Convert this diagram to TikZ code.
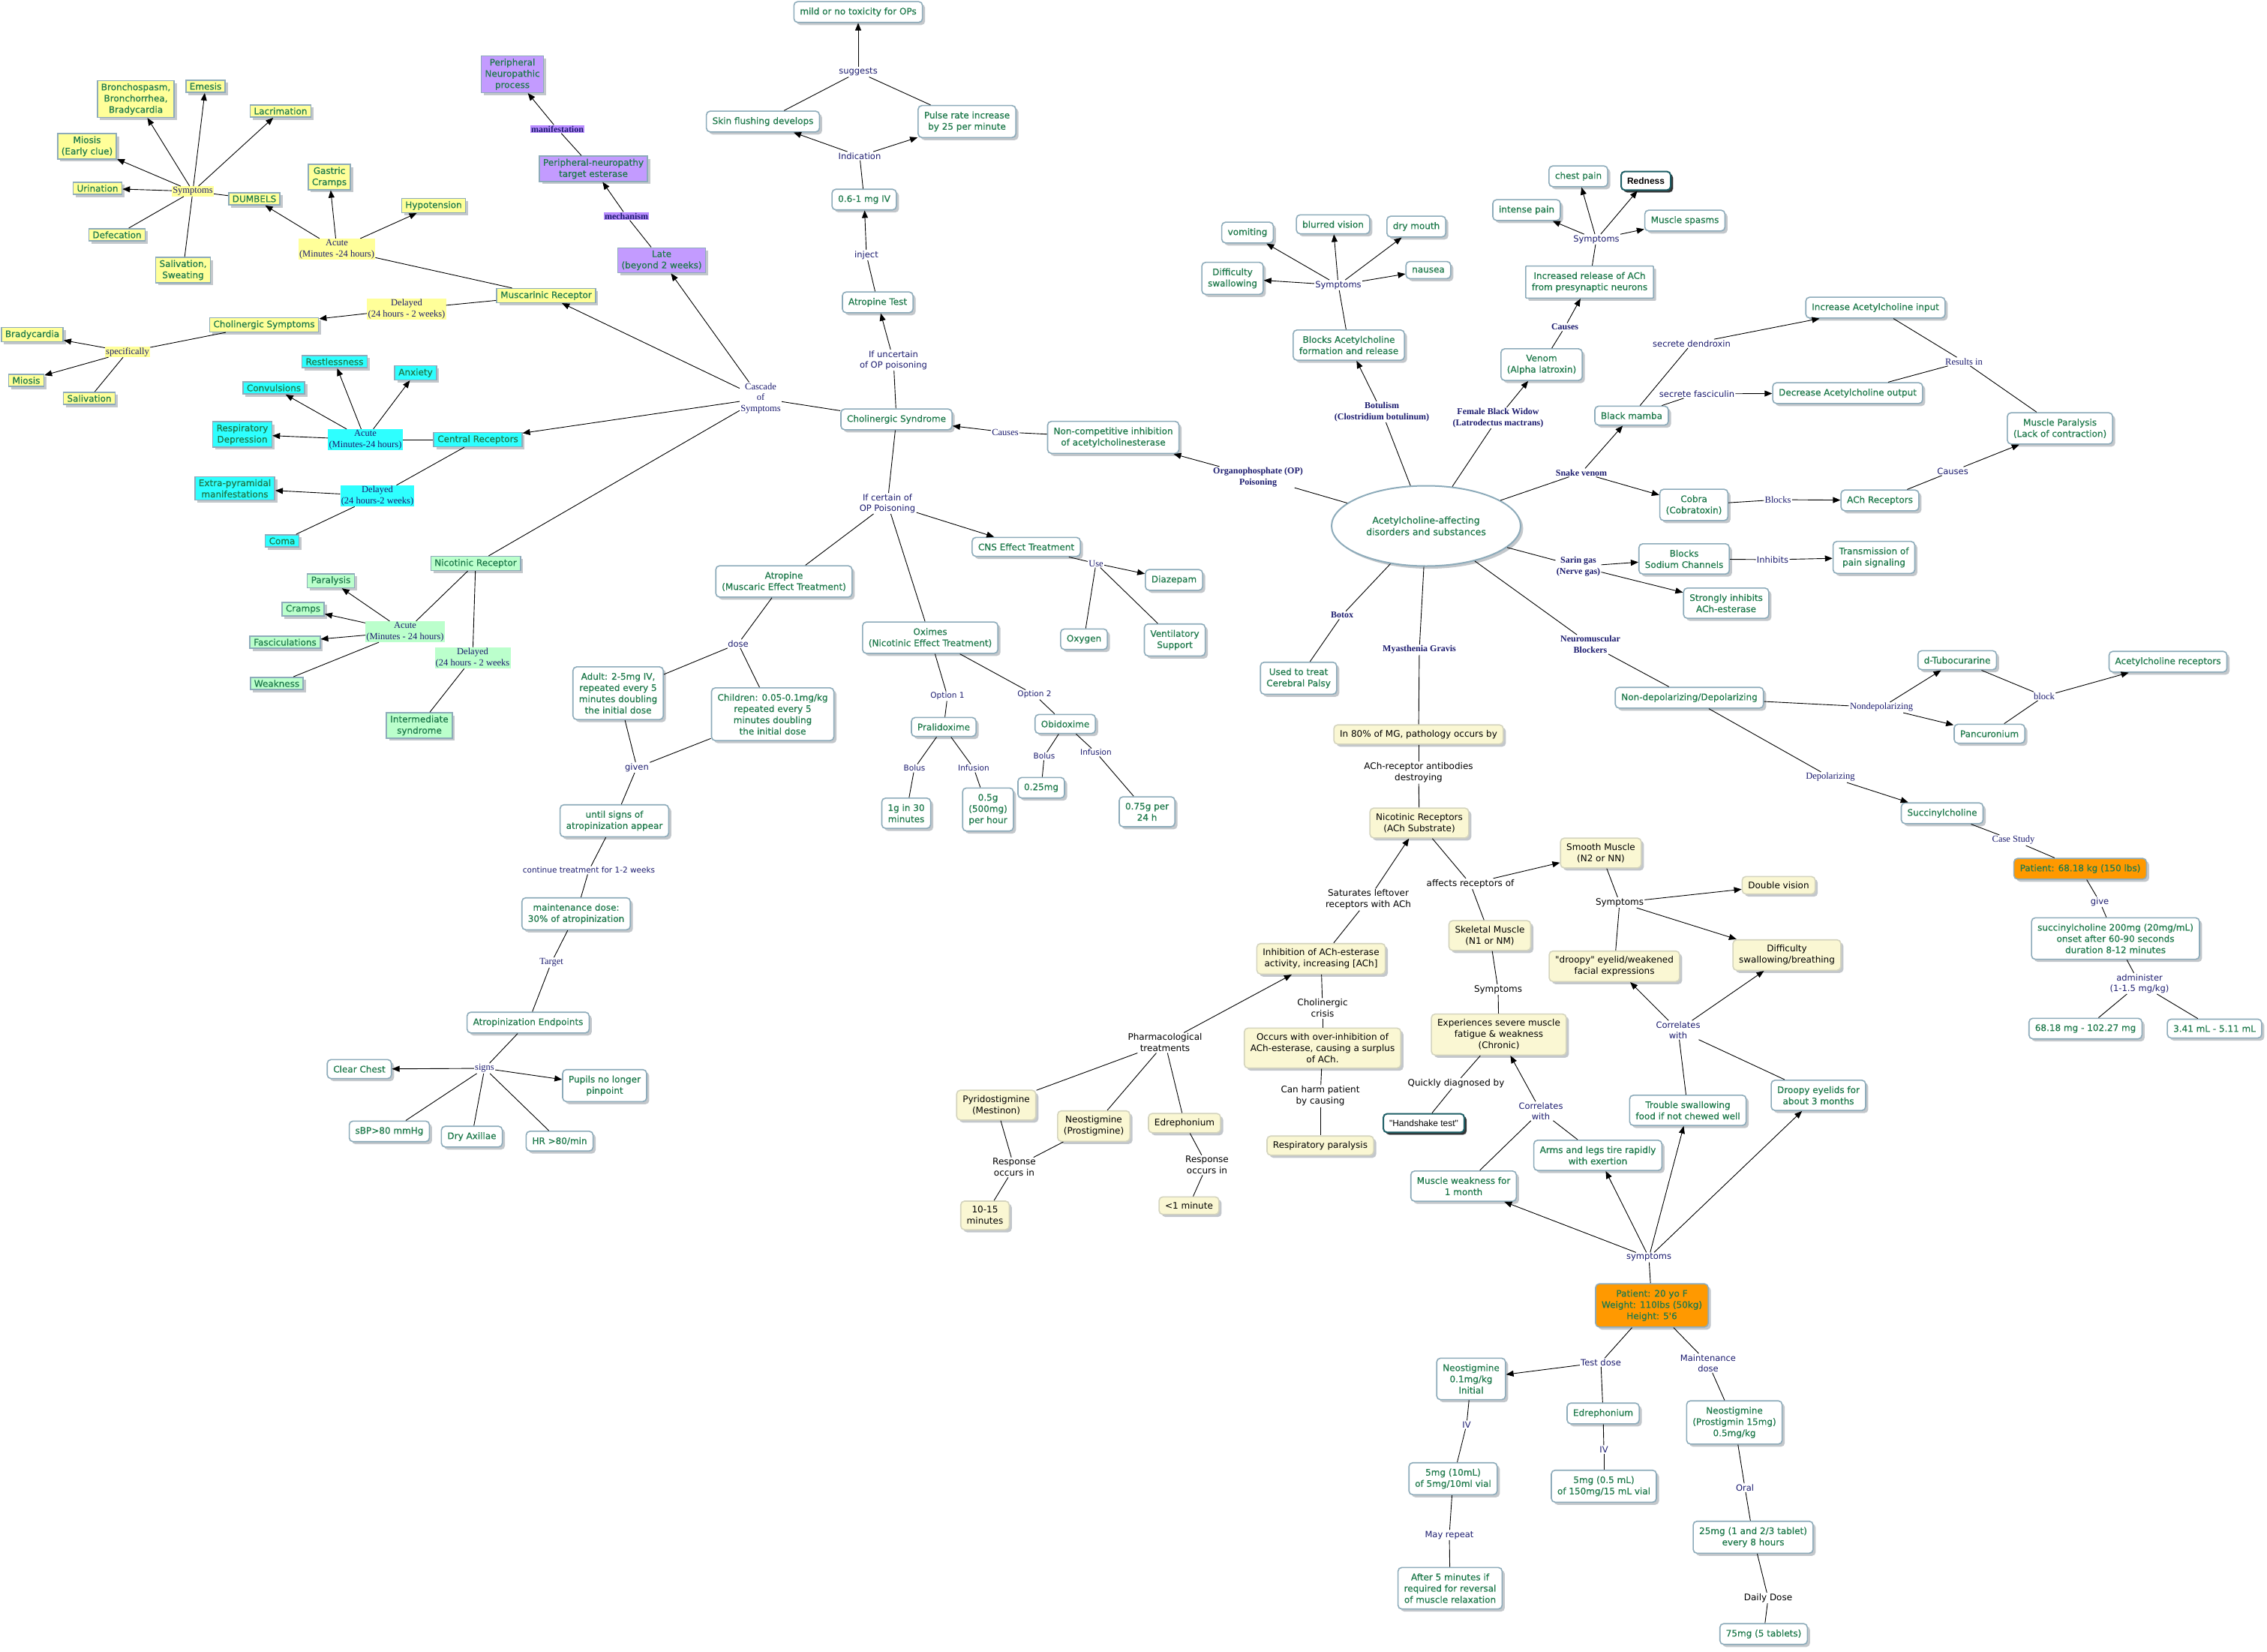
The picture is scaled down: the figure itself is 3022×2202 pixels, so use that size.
\documentclass[tikz,border=0pt]{standalone}
\usepackage{fontspec}
\usepackage{tikz}
\usetikzlibrary{arrows.meta,shapes.geometric,shadows}
\newfontfamily\verd{DejaVu Sans}
\newfontfamily\verdh[FakeBold=0.6]{DejaVu Sans}
\newfontfamily\tms{Liberation Serif}
\newfontfamily\arl{Liberation Sans}
\definecolor{leaf}{HTML}{1F7A4C}
\definecolor{rim}{HTML}{8DABBA}
\definecolor{shadowgrey}{HTML}{C3C7CB}
\definecolor{navy}{HTML}{1D1D70}
\definecolor{lemon}{HTML}{FFFF99}
\definecolor{aqua}{HTML}{2EFFFF}
\definecolor{mint}{HTML}{BBFFCC}
\definecolor{lilac}{HTML}{C39BFF}
\definecolor{lilacdk}{HTML}{B98CFF}
\definecolor{cream}{HTML}{FAF7D3}
\definecolor{creamrim}{HTML}{D4D4BE}
\definecolor{amber}{HTML}{FF9900}
\definecolor{tealrim}{HTML}{1E5F66}
\tikzset{
  cbox/.style={rectangle, rounded corners=5pt, draw=rim, fill=white, line width=1.6pt, align=center,
               text=leaf, font=\verdh\fontsize{12}{15}\selectfont, inner xsep=8pt, inner ysep=8pt,
               drop shadow={shadow xshift=3.5pt, shadow yshift=-3.5pt, fill=shadowgrey, opacity=1}},
  ybox/.style={cbox, rounded corners=0pt, fill=lemon, inner xsep=5pt, inner ysep=3.5pt},
  cybox/.style={ybox, fill=aqua},
  gbox/.style={ybox, fill=mint},
  pbox/.style={ybox, fill=lilac},
  mgbox/.style={cbox, draw=creamrim, fill=cream, text=black, font=\verd\fontsize{12}{15}\selectfont, inner ysep=7pt},
  obox/.style={cbox, fill=amber},
  hub/.style={ellipse, draw=rim, fill=white, line width=2pt, align=center, text=leaf,
              font=\verdh\fontsize{12.5}{15.5}\selectfont, minimum width=252pt, minimum height=107pt,
              drop shadow={shadow xshift=3.5pt, shadow yshift=-3.5pt, fill=shadowgrey, opacity=1}},
  rbox/.style={cbox, draw=tealrim, line width=2pt, text=black, font=\arl\bfseries\fontsize{12}{15}\selectfont,
               drop shadow={shadow xshift=3pt, shadow yshift=-3pt, fill=black!80, opacity=1}},
  hbox/.style={rbox, font=\arl\fontsize{12}{15}\selectfont},
  lbl/.style={rectangle, fill=white, inner sep=1.2pt, align=center, text=navy, font=\verd\fontsize{11.5}{14}\selectfont},
  tlbl/.style={lbl, font=\verd\fontsize{10.5}{13}\selectfont},
  slbl/.style={lbl, font=\tms\fontsize{12.5}{14.5}\selectfont},
  blbl/.style={lbl, font=\tms\bfseries\fontsize{12}{14.5}\selectfont},
  klbl/.style={lbl, text=black, font=\verd\fontsize{12}{15}\selectfont},
  ylbl/.style={slbl, fill=lemon},
  clbl/.style={slbl, fill=aqua},
  glbl/.style={slbl, fill=mint},
  plbl/.style={blbl, fill=lilacdk},
  link/.style={draw=black, line width=0.9pt},
  arr/.style={link, -{Triangle[length=10pt,width=8pt]}}
}
\begin{document}
\begin{tikzpicture}[x=1pt, y=-1pt]
 \fill[white] (0,0) rectangle (3022,2202);
 \useasboundingbox (0,0) rectangle (3022,2202);
 % muscarinic (yellow)
 \node[ybox] (bron) at (181,132) {Bronchospasm,\\Bronchorrhea,\\Bradycardia};
 \node[ybox] (emes) at (274,115) {Emesis};
 \node[ybox] (lacr) at (374,148) {Lacrimation};
 \node[ybox] (mio1) at (116,195) {Miosis\\(Early clue)};
 \node[ybox] (urin) at (130,251) {Urination};
 \node[ylbl] (symA) at (257,255) {Symptoms};
 \node[ybox] (dumb) at (339,265) {DUMBELS};
 \node[ybox] (defe) at (156,313) {Defecation};
 \node[ybox] (sali1) at (244,360) {Salivation,\\Sweating};
 \node[ybox] (gast) at (439,236) {Gastric\\Cramps};
 \node[ybox] (hypo) at (578,274) {Hypotension};
 \node[ylbl] (acuM) at (449,332) {Acute\\(Minutes -24 hours)};
 \node[ybox] (musc) at (728,394) {Muscarinic Receptor};
 \node[ylbl] (delM) at (542,412) {Delayed\\(24 hours - 2 weeks)};
 \node[ybox] (chsy) at (352,433) {Cholinergic Symptoms};
 \node[ybox] (brad) at (43,446) {Bradycardia};
 \node[ylbl] (spec) at (170,469) {specifically};
 \node[ybox] (mio2) at (35,507) {Miosis};
 \node[ybox] (sali2) at (119,531) {Salivation};
 % central (cyan)
 \node[cybox] (rest) at (446,482) {Restlessness};
 \node[cybox] (anxi) at (554,497) {Anxiety};
 \node[cybox] (conv) at (365,517) {Convulsions};
 \node[cybox] (resp) at (323,579) {Respiratory\\Depression};
 \node[clbl] (acuC) at (487,586) {Acute\\(Minutes-24 hours)};
 \node[cybox] (cent) at (637,586) {Central Receptors};
 \node[cybox] (extr) at (313,651) {Extra-pyramidal\\manifestations};
 \node[clbl] (delC) at (503,661) {Delayed\\(24 hours-2 weeks)};
 \node[cybox] (coma) at (376,721) {Coma};
 % nicotinic (green)
 \node[gbox] (nico) at (634,751) {Nicotinic Receptor};
 \node[gbox] (para) at (441,774) {Paralysis};
 \node[gbox] (cram) at (404,812) {Cramps};
 \node[glbl] (acuN) at (540,842) {Acute\\(Minutes - 24 hours)};
 \node[gbox] (fasc) at (380,856) {Fasciculations};
 \node[glbl] (delN) at (630,877) {Delayed\\(24 hours - 2 weeks};
 \node[gbox] (weak) at (369,911) {Weakness};
 \node[gbox] (inte) at (559,967) {Intermediate\\syndrome};
 % late (purple)
 \node[pbox] (pnp) at (683,99) {Peripheral\\Neuropathic\\process};
 \node[plbl] (mani) at (743,172) {manifestation};
 \node[pbox] (pnte) at (791,225) {Peripheral-neuropathy\\target esterase};
 \node[plbl] (mech) at (835,288) {mechanism};
 \node[pbox] (late) at (882,347) {Late\\(beyond 2 weeks)};
 % OP poisoning
 \node[cbox] (mild) at (1144,16) {mild or no toxicity for OPs};
 \node[lbl] (sugg) at (1144,96) {suggests};
 \node[cbox] (skin) at (1017,162) {Skin flushing develops};
 \node[cbox] (puls) at (1289,162) {Pulse rate increase\\by 25 per minute};
 \node[lbl] (indi) at (1146,208) {Indication};
 \node[cbox] (dose1) at (1152,266) {0.6-1 mg IV};
 \node[lbl] (inje) at (1155,340) {inject};
 \node[cbox] (atte) at (1170,403) {Atropine Test};
 \node[lbl] (unce) at (1191,480) {If uncertain\\of OP poisoning};
 \node[cbox] (chol) at (1195,559) {Cholinergic Syndrome};
 \node[slbl] (caus1) at (1340,576) {Causes};
 \node[cbox] (ncomp) at (1484,583) {Non-competitive inhibition\\of acetylcholinesterase};
 \node[slbl] (casc) at (1014,531) {Cascade\\of\\Symptoms};
 \node[lbl] (cert) at (1183,671) {If certain of\\OP Poisoning};
 \node[cbox] (cns) at (1368,729) {CNS Effect Treatment};
 \node[slbl] (use) at (1461,751) {Use};
 \node[cbox] (diaz) at (1565,773) {Diazepam};
 \node[cbox] (oxyg) at (1445,852) {Oxygen};
 \node[cbox] (vent) at (1566,853) {Ventilatory\\Support};
 \node[cbox] (atro) at (1045,775) {Atropine\\(Muscaric Effect Treatment)};
 \node[cbox] (oxim) at (1240,850) {Oximes\\(Nicotinic Effect Treatment)};
 \node[lbl] (dose) at (984,858) {dose};
 \node[cbox] (adul) at (824,924) {Adult: 2-5mg IV,\\repeated every 5\\minutes doubling\\the initial dose};
 \node[cbox] (chil) at (1030,952) {Children: 0.05-0.1mg/kg\\repeated every 5\\minutes doubling\\the initial dose};
 \node[lbl] (give) at (849,1023) {given};
 \node[cbox] (unti) at (819,1094) {until signs of\\atropinization appear};
 \node[tlbl] (cont) at (785,1160) {continue treatment for 1-2 weeks};
 \node[cbox] (main) at (768,1218) {maintenance dose:\\30\% of atropinization};
 \node[slbl] (targ) at (735,1283) {Target};
 \node[cbox] (endp) at (704,1363) {Atropinization Endpoints};
 \node[slbl] (sign) at (646,1424) {signs};
 \node[cbox] (clea) at (479,1425) {Clear Chest};
 \node[cbox] (pupi) at (806,1447) {Pupils no longer\\pinpoint};
 \node[cbox] (sbp) at (519,1508) {sBP>80 mmHg};
 \node[cbox] (dry) at (629,1515) {Dry Axillae};
 \node[cbox] (hr) at (746,1521) {HR >80/min};
 \node[tlbl] (opt1) at (1263,928) {Option 1};
 \node[tlbl] (opt2) at (1379,926) {Option 2};
 \node[cbox] (pral) at (1258,969) {Pralidoxime};
 \node[cbox] (obid) at (1420,965) {Obidoxime};
 \node[tlbl] (bol1) at (1219,1024) {Bolus};
 \node[tlbl] (inf1) at (1298,1024) {Infusion};
 \node[tlbl] (bol2) at (1392,1008) {Bolus};
 \node[tlbl] (inf2) at (1461,1003) {Infusion};
 \node[cbox] (g1) at (1208,1084) {1g in 30\\minutes};
 \node[cbox] (g05) at (1317,1079) {0.5g\\(500mg)\\per hour};
 \node[cbox] (mg025) at (1388,1050) {0.25mg};
 \node[cbox] (g075) at (1529,1082) {0.75g per\\24 h};
 % hub and its branches
 \node[hub] (hub) at (1901,701) {Acetylcholine-affecting\\disorders and substances};
 \node[blbl] (opl) at (1677,636) {Organophosphate (OP)\\Poisoning};
 \node[blbl] (botu) at (1842,549) {Botulism\\(Clostridium botulinum)};
 \node[cbox] (bloc) at (1798,460) {Blocks Acetylcholine\\formation and release};
 \node[lbl] (symB) at (1784,380) {Symptoms};
 \node[cbox] (vomi) at (1663,310) {vomiting};
 \node[cbox] (blur) at (1777,299) {blurred vision};
 \node[cbox] (drym) at (1888,302) {dry mouth};
 \node[cbox] (dswa) at (1643,371) {Difficulty\\swallowing};
 \node[cbox] (naus) at (1904,360) {nausea};
 \node[blbl] (widw) at (1997,557) {Female Black Widow\\(Latrodectus mactrans)};
 \node[cbox] (veno) at (2055,486) {Venom\\(Alpha latroxin)};
 \node[blbl] (caus2) at (2086,436) {Causes};
 \node[cbox, rounded corners=1pt] (incr) at (2119,376) {Increased release of ACh\\from presynaptic neurons};
 \node[lbl] (symV) at (2128,319) {Symptoms};
 \node[cbox] (pain) at (2035,280) {intense pain};
 \node[cbox] (ches) at (2104,235) {chest pain};
 \node[rbox] (redn) at (2194,241) {Redness};
 \node[cbox] (spas) at (2246,294) {Muscle spasms};
 \node[blbl] (snak) at (2108,630) {Snake venom};
 \node[cbox] (mamb) at (2175,554) {Black mamba};
 \node[cbox] (cobr) at (2258,673) {Cobra\\(Cobratoxin)};
 \node[lbl] (dend) at (2255,458) {secrete dendroxin};
 \node[lbl] (fasl) at (2262,525) {secrete fasciculin};
 \node[cbox] (inpu) at (2500,410) {Increase Acetylcholine input};
 \node[cbox] (outp) at (2463,524) {Decrease Acetylcholine output};
 \node[slbl] (resu) at (2618,482) {Results in};
 \node[cbox] (mpar) at (2746,571) {Muscle Paralysis\\(Lack of contraction)};
 \node[slbl] (blks) at (2370,666) {Blocks};
 \node[cbox] (achr) at (2506,667) {ACh Receptors};
 \node[lbl] (caus3) at (2603,628) {Causes};
 \node[blbl] (sari) at (2104,755) {Sarin gas\\(Nerve gas)};
 \node[cbox] (sodi) at (2245,745) {Blocks\\Sodium Channels};
 \node[lbl] (inhi) at (2363,746) {Inhibits};
 \node[cbox] (tran) at (2498,743) {Transmission of\\pain signaling};
 \node[cbox] (stro) at (2301,804) {Strongly inhibits\\ACh-esterase};
 \node[blbl] (neur) at (2120,859) {Neuromuscular\\Blockers};
 \node[cbox] (nond) at (2252,930) {Non-depolarizing/Depolarizing};
 \node[slbl] (ndl) at (2508,943) {Nondepolarizing};
 \node[cbox] (dtub) at (2609,880) {d-Tubocurarine};
 \node[cbox] (panc) at (2652,978) {Pancuronium};
 \node[slbl] (blk) at (2725,928) {block};
 \node[cbox] (achr2) at (2890,882) {Acetylcholine receptors};
 \node[slbl] (depl) at (2440,1036) {Depolarizing};
 \node[cbox] (succ) at (2589,1084) {Succinylcholine};
 \node[slbl] (case) at (2684,1120) {Case Study};
 \node[obox] (pat1) at (2773,1158) {Patient: 68.18 kg (150 lbs)};
 \node[lbl] (give2) at (2799,1202) {give};
 \node[cbox] (sdos) at (2820,1251) {succinylcholine 200mg (20mg/mL)\\onset after 60-90 seconds\\duration 8-12 minutes};
 \node[lbl] (admi) at (2852,1311) {administer\\(1-1.5 mg/kg)};
 \node[cbox] (mgr) at (2780,1371) {68.18 mg - 102.27 mg};
 \node[cbox] (mlr) at (2952,1371) {3.41 mL - 5.11 mL};
 % myasthenia gravis
 \node[blbl] (boto) at (1789,820) {Botox};
 \node[cbox] (cere) at (1731,904) {Used to treat\\Cerebral Palsy};
 \node[blbl] (myas) at (1892,866) {Myasthenia Gravis};
 \node[mgbox] (mg80) at (1891,979) {In 80\% of MG, pathology occurs by};
 \node[klbl] (anti) at (1891,1030) {ACh-receptor antibodies\\destroying};
 \node[mgbox] (nrec) at (1892,1097) {Nicotinic Receptors\\(ACh Substrate)};
 \node[klbl] (affe) at (1960,1178) {affects receptors of};
 \node[mgbox] (smoo) at (2134,1137) {Smooth Muscle\\(N2 or NN)};
 \node[klbl] (satu) at (1824,1199) {Saturates leftover\\receptors with ACh};
 \node[klbl] (symS) at (2159,1203) {Symptoms};
 \node[mgbox] (dbl) at (2371,1180) {Double vision};
 \node[mgbox] (skel) at (1986,1247) {Skeletal Muscle\\(N1 or NM)};
 \node[mgbox] (inhb) at (1761,1278) {Inhibition of ACh-esterase\\activity, increasing [ACh]};
 \node[mgbox] (droo) at (2152,1288) {"droopy" eyelid/weakened\\facial expressions};
 \node[mgbox] (dswb) at (2382,1273) {Difficulty\\swallowing/breathing};
 \node[klbl] (symK) at (1997,1319) {Symptoms};
 \node[klbl] (cris) at (1763,1344) {Cholinergic\\crisis};
 \node[mgbox] (expe) at (1998,1379) {Experiences severe muscle\\fatigue \& weakness\\(Chronic)};
 \node[mgbox] (occu) at (1763,1397) {Occurs with over-inhibition of\\ACh-esterase, causing a surplus\\of ACh.};
 \node[lbl] (corR) at (2237,1373) {Correlates\\with};
 \node[klbl] (quic) at (1941,1444) {Quickly diagnosed by};
 \node[klbl] (harm) at (1760,1461) {Can harm patient\\by causing};
 \node[klbl] (phar) at (1553,1390) {Pharmacological\\treatments};
 \node[mgbox] (pyri) at (1328,1473) {Pyridostigmine\\(Mestinon)};
 \node[mgbox] (neo1) at (1458,1501) {Neostigmine\\(Prostigmine)};
 \node[mgbox] (edr1) at (1579,1497) {Edrephonium};
 \node[klbl] (res1) at (1352,1556) {Response\\occurs in};
 \node[mgbox] (m1015) at (1313,1620) {10-15\\minutes};
 \node[klbl] (res2) at (1609,1553) {Response\\occurs in};
 \node[mgbox] (lt1) at (1585,1607) {<1 minute};
 \node[mgbox] (resp2) at (1760,1527) {Respiratory paralysis};
 \node[hbox] (hand) at (1898,1497) {"Handshake test"};
 \node[lbl] (corL) at (2054,1481) {Correlates\\with};
 \node[cbox] (arms) at (2130,1540) {Arms and legs tire rapidly\\with exertion};
 \node[cbox] (mwea) at (1951,1581) {Muscle weakness for\\1 month};
 \node[cbox] (trou) at (2250,1480) {Trouble swallowing\\food if not chewed well};
 \node[cbox] (droe) at (2424,1460) {Droopy eyelids for\\about 3 months};
 \node[lbl] (symP) at (2198,1676) {symptoms};
 \node[obox] (pat2) at (2202,1740) {Patient: 20 yo F\\Weight: 110lbs (50kg)\\Height: 5'6};
 \node[lbl] (test) at (2134,1816) {Test dose};
 \node[lbl] (mdos) at (2277,1817) {Maintenance\\dose};
 \node[cbox] (neo2) at (1961,1838) {Neostigmine\\0.1mg/kg\\Initial};
 \node[cbox] (edr2) at (2137,1884) {Edrephonium};
 \node[lbl] (iv1) at (1955,1899) {IV};
 \node[lbl] (iv2) at (2138,1932) {IV};
 \node[cbox] (v10) at (1937,1971) {5mg (10mL)\\of 5mg/10ml vial};
 \node[cbox] (v05) at (2138,1981) {5mg (0.5 mL)\\of 150mg/15 mL vial};
 \node[lbl] (mayr) at (1932,2046) {May repeat};
 \node[cbox] (aft5) at (1933,2117) {After 5 minutes if\\required for reversal\\of muscle relaxation};
 \node[cbox] (neo3) at (2312,1896) {Neostigmine\\(Prostigmin 15mg)\\0.5mg/kg};
 \node[lbl] (oral) at (2326,1983) {Oral};
 \node[cbox] (t25) at (2337,2049) {25mg (1 and 2/3 tablet)\\every 8 hours};
 \node[klbl] (dail) at (2357,2130) {Daily Dose};
 \node[cbox] (t75) at (2351,2178) {75mg (5 tablets)};
 % links: muscarinic / central / nicotinic
 \draw[link](dumb)--(symA);\draw[arr](symA)--(bron);\draw[arr](symA)--(emes);\draw[arr](symA)--(lacr);
 \draw[arr](symA)--(mio1);\draw[arr](symA)--(urin);\draw[link](symA)--(defe);\draw[link](symA)--(sali1);
 \draw[link](musc)--(acuM);\draw[arr](acuM)--(dumb);\draw[arr](acuM)--(gast);\draw[arr](acuM)--(hypo);
 \draw[link](musc)--(delM);\draw[arr](delM)--(chsy);
 \draw[link](chsy)--(spec);\draw[arr](spec)--(brad);\draw[arr](spec)--(mio2);\draw[link](spec)--(sali2);
 \draw[link](cent)--(acuC);\draw[arr](acuC)--(conv);\draw[arr](acuC)--(rest);\draw[arr](acuC)--(anxi);\draw[arr](acuC)--(resp);
 \draw[link](cent)--(delC);\draw[arr](delC)--(extr);\draw[link](delC)--(coma);
 \draw[link](nico)--(acuN);\draw[arr](acuN)--(para);\draw[arr](acuN)--(cram);\draw[arr](acuN)--(fasc);\draw[link](acuN)--(weak);
 \draw[link](nico)--(delN);\draw[link](delN)--(inte);
 \draw[link](chol)--(casc);\draw[arr](casc)--(musc);\draw[arr](casc)--(late);\draw[arr](casc)--(cent);\draw[link](casc)--(nico);
 \draw[link](late)--(mech);\draw[arr](mech)--(pnte);\draw[link](pnte)--(mani);\draw[arr](mani)--(pnp);
 % links: OP poisoning
 \draw[link](chol)--(unce);\draw[arr](unce)--(atte);\draw[link](atte)--(inje);\draw[arr](inje)--(dose1);
 \draw[link](dose1)--(indi);\draw[arr](indi)--(skin);\draw[arr](indi)--(puls);
 \draw[link](skin)--(sugg);\draw[link](puls)--(sugg);\draw[arr](sugg)--(mild);
 \draw[link](ncomp)--(caus1);\draw[arr](caus1)--(chol);
 \draw[link](chol)--(cert);\draw[arr](cert)--(cns);\draw[link](cert)--(atro);\draw[link](cert)--(oxim);
 \draw[link](cns)--(use);\draw[arr](use)--(diaz);\draw[link](use)--(oxyg);\draw[link](use)--(vent);
 \draw[link](atro)--(dose);\draw[link](dose)--(adul);\draw[link](dose)--(chil);
 \draw[link](adul)--(give);\draw[link](chil)--(give);\draw[link](give)--(unti);
 \draw[link](unti)--(cont);\draw[link](cont)--(main);\draw[link](main)--(targ);\draw[link](targ)--(endp);
 \draw[link](endp)--(sign);\draw[arr](sign)--(clea);\draw[arr](sign)--(pupi);
 \draw[link](sign)--(sbp);\draw[link](sign)--(dry);\draw[link](sign)--(hr);
 \draw[link](oxim)--(opt1);\draw[link](opt1)--(pral);\draw[link](oxim)--(opt2);\draw[link](opt2)--(obid);
 \draw[link](pral)--(bol1);\draw[link](bol1)--(g1);\draw[link](pral)--(inf1);\draw[link](inf1)--(g05);
 \draw[link](obid)--(bol2);\draw[link](bol2)--(mg025);\draw[link](obid)--(inf2);\draw[link](inf2)--(g075);
 % links: hub
 \draw[link](hub)--(opl);\draw[arr](opl)--(ncomp);
 \draw[link](hub)--(botu);\draw[arr](botu)--(bloc);
 \draw[link](bloc)--(symB);\draw[arr](symB)--(vomi);\draw[arr](symB)--(blur);\draw[arr](symB)--(drym);
 \draw[arr](symB)--(naus);\draw[arr](symB)--(dswa);
 \draw[link](hub)--(widw);\draw[arr](widw)--(veno);\draw[link](veno)--(caus2);\draw[arr](caus2)--(incr);
 \draw[link](incr)--(symV);\draw[arr](symV)--(pain);\draw[arr](symV)--(ches);\draw[arr](symV)--(redn);\draw[arr](symV)--(spas);
 \draw[link](hub)--(snak);\draw[arr](snak)--(mamb);\draw[arr](snak)--(cobr);
 \draw[link](mamb)--(dend);\draw[arr](dend)--(inpu);\draw[link](mamb)--(fasl);\draw[arr](fasl)--(outp);
 \draw[link](inpu)--(resu);\draw[link](outp)--(resu);\draw[link](resu)--(mpar);
 \draw[link](cobr)--(blks);\draw[arr](blks)--(achr);\draw[link](achr)--(caus3);\draw[arr](caus3)--(mpar);
 \draw[link](hub)--(sari);\draw[arr](sari)--(sodi);\draw[arr](sari)--(stro);
 \draw[link](sodi)--(inhi);\draw[arr](inhi)--(tran);
 \draw[link](hub)--(neur);\draw[link](neur)--(nond);
 \draw[link](nond)--(ndl);\draw[arr](ndl)--(dtub);\draw[arr](ndl)--(panc);
 \draw[link](dtub)--(blk);\draw[link](panc)--(blk);\draw[arr](blk)--(achr2);
 \draw[link](nond)--(depl);\draw[arr](depl)--(succ);
 \draw[link](succ)--(case);\draw[link](case)--(pat1);\draw[link](pat1)--(give2);\draw[link](give2)--(sdos);
 \draw[link](sdos)--(admi);\draw[link](admi)--(mgr);\draw[link](admi)--(mlr);
 % links: myasthenia gravis
 \draw[link](hub)--(boto);\draw[link](boto)--(cere);
 \draw[link](hub)--(myas);\draw[link](myas)--(mg80);\draw[link](mg80)--(anti);\draw[link](anti)--(nrec);
 \draw[link](nrec)--(affe);\draw[arr](affe)--(smoo);\draw[link](affe)--(skel);
 \draw[link](smoo)--(symS);\draw[arr](symS)--(dbl);\draw[arr](symS)--(dswb);\draw[link](symS)--(droo);
 \draw[link](skel)--(symK);\draw[link](symK)--(expe);\draw[link](expe)--(quic);\draw[link](quic)--(hand);
 \draw[link](inhb)--(satu);\draw[arr](satu)--(nrec);
 \draw[link](pyri)--(phar);\draw[link](neo1)--(phar);\draw[link](edr1)--(phar);\draw[arr](phar)--(inhb);
 \draw[link](inhb)--(cris);\draw[link](cris)--(occu);\draw[link](occu)--(harm);\draw[link](harm)--(resp2);
 \draw[link](pyri)--(res1);\draw[link](neo1)--(res1);\draw[link](res1)--(m1015);
 \draw[link](edr1)--(res2);\draw[link](res2)--(lt1);
 \draw[link](mwea)--(corL);\draw[link](arms)--(corL);\draw[arr](corL)--(expe);
 \draw[link](trou)--(corR);\draw[link](droe)--(corR);\draw[arr](corR)--(droo);\draw[arr](corR)--(dswb);
 \draw[link](pat2)--(symP);\draw[arr](symP)--(mwea);\draw[arr](symP)--(arms);\draw[arr](symP)--(trou);\draw[arr](symP)--(droe);
 \draw[link](pat2)--(test);\draw[arr](test)--(neo2);\draw[link](test)--(edr2);
 \draw[link](neo2)--(iv1);\draw[link](iv1)--(v10);\draw[link](v10)--(mayr);\draw[link](mayr)--(aft5);
 \draw[link](edr2)--(iv2);\draw[link](iv2)--(v05);
 \draw[link](pat2)--(mdos);\draw[link](mdos)--(neo3);\draw[link](neo3)--(oral);\draw[link](oral)--(t25);
 \draw[link](t25)--(dail);\draw[link](dail)--(t75);
\end{tikzpicture}
\end{document}
